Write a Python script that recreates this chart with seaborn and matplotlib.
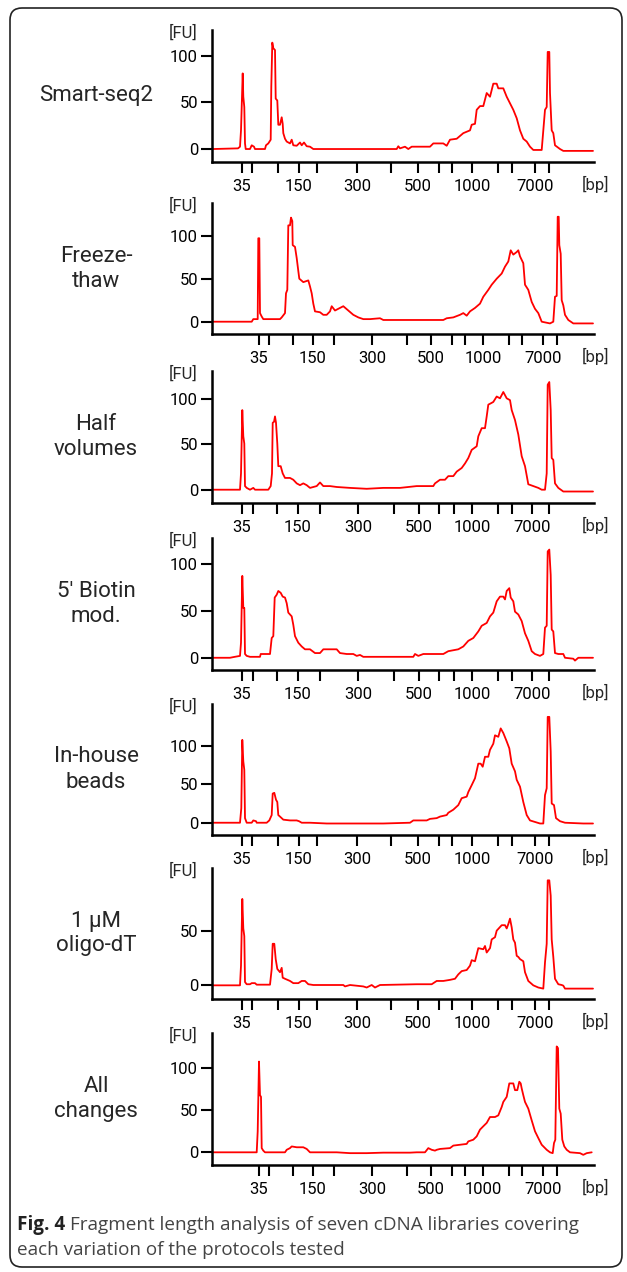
import matplotlib
matplotlib.use("Agg")
from matplotlib import pyplot as plt
from matplotlib.patches import FancyBboxPatch
import seaborn as sns
import pandas as pd

# Bioanalyzer traces: migration position (t) vs fluorescence [FU]

smart_t = [1, 26, 28, 29, 30.7, 31.3, 32.3, 33, 33.7, 38, 39.7, 42, 43, 53, 54, 56.3, 58.7, 59.3, 60.3, 61.3,
           63, 63.7, 65.3, 66.3, 68, 69.7, 70.7, 71.3, 73, 74.7, 78, 79.7, 81.3, 84.7, 88, 89.7, 92, 94.7, 98, 101.3,
           184.7, 186.3, 188, 193, 196.3, 199.7, 218, 221.3, 231.3, 234.7, 238, 244.7, 251.3, 258, 259.7, 263,
           264.7, 268, 271.3, 274.7, 278, 281.3, 284.7, 286.3, 291.3, 294.7, 298, 301.3, 304.7, 308, 311.3, 314.7,
           318, 321.3, 329.7, 333, 334.7, 335.7, 337.3, 338, 339.7, 341.3, 343, 348, 351.3, 381]
smart_fu = [0, 0.7, 2.5, 20, 81, 56, 45, 6, 0, 0, 4, 2.5, 0, 0, 4, 6, 10, 67, 114, 108,
            106, 54, 52, 26, 26, 34, 27, 17, 11, 8, 6, 10, 4, 3.5, 7, 4, 7, 3, 2.5, 0,
            0, 3, 0.7, 2.5, 0, 2.5, 2.5, 6, 6, 3.5, 10, 11, 17, 20, 26, 27,
            42, 46, 46, 60, 56, 70, 70, 65, 65, 56, 49, 42, 33, 20, 11, 8,
            2.5, -1, -1, 42, 45, 104, 104, 60, 20, 17, 4, 0, -2, -2]

freeze_t = [1, 39.7, 41.3, 45.7, 46.3, 47.3, 48, 49.7, 51.3, 68, 69.7, 73, 74, 75.3, 76.3, 78, 79, 80.3, 80.7, 83,
            84.7, 86.3, 87.3, 91.3, 96.3, 98, 99.7, 101.3, 103, 108, 111.3, 114.7, 118, 119.7, 123, 126.3, 131.3,
            136.3, 141.3, 146.3, 151.3, 158, 168, 171.3, 231.3, 234.7, 241.3, 248, 251.3, 254.7, 258, 263, 268,
            271.3, 276.3, 279.7, 284.7, 289.7, 293, 296.3, 298.7, 301.3, 304.7, 306.3, 308, 311.3, 313, 316.3,
            319.7, 323, 326.3, 329.7, 338, 341.3, 343, 344.7, 345.7, 346.7, 347.3, 348.7, 349.7, 351.3, 353,
            356.3, 361.3, 381]
freeze_fu = [0, 0, 3, 3, 97, 97, 10, 6, 3, 3, 5, 10, 33, 37, 112, 112, 121, 117, 89, 87,
             74, 59, 50, 46, 48, 41, 33, 21, 12, 11, 8, 8, 12, 18, 13, 15, 18,
             13, 8, 5, 3, 3, 4, 2, 2, 4, 5, 8, 10, 7, 12, 16, 21,
             29, 37, 43, 50, 56, 64, 70, 83, 78, 81, 83, 76, 68, 43, 37,
             23, 15, 10, 0, -2, 0, 29, 30, 122, 122, 89, 79, 25, 19, 8,
             2, -2, -2]

half_t = [1, 28, 29, 30.3, 31.3, 32.3, 33, 34.7, 38, 41.3, 43, 56.3, 58.7, 60, 60.7, 62, 63, 64, 65.3, 66.3,
          68.7, 70.7, 73, 78, 81.3, 84.7, 88, 91.3, 94.7, 98, 104.7, 108, 111.3, 118, 124.7, 138, 154.7, 171.3,
          188, 204.7, 221.3, 223, 228, 233, 236.3, 241.3, 244.7, 249.7, 253, 256.3, 259.7, 264.7, 266.3, 269.7,
          273, 274.7, 276.3, 279.7, 281.3, 284.7, 288, 291.3, 294.7, 298, 299.7, 303, 306.3, 309.7, 313, 316.3,
          321.3, 326.3, 329.7, 333, 334.7, 335.7, 337.3, 338.7, 339.7, 341.3, 343, 346.3, 351.3, 381]
half_fu = [0, 0, 18, 88, 59, 51, 4, 2, 0, 2, 0, 0, 4, 18, 74, 75, 81, 74, 51, 26,
           26, 18, 13, 13, 11, 7, 5, 7, 5, 2, 4, 8, 4, 4, 3, 2, 1, 2,
           2, 4, 4, 7, 11, 11, 15, 15, 20, 24, 29, 35, 44, 48, 59, 68,
           68, 81, 94, 96, 97, 103, 101, 108, 101, 99, 88, 77, 61, 37, 26, 6,
           4, 2, 0, 0, 18, 116, 119, 88, 35, 33, 7, 2, -2, -2]

biotin_t = [1, 18, 21.3, 28, 29, 30.3, 31.3, 32.3, 33, 34.7, 38, 48, 48.7, 58, 59.7, 61.3, 62.7, 64.7, 66.3, 68.7,
            70.7, 73, 74.7, 76.3, 79.7, 81.3, 83, 86.3, 89.7, 93, 98, 103, 108, 111.3, 124.7, 128, 134.7, 141.3,
            144.7, 148, 151.3, 201.3, 203, 206.3, 211.3, 231.3, 236.3, 241.3, 246.3, 251.3, 256.3, 261.3, 266.3,
            269.7, 274.7, 278, 281.3, 284.7, 288, 291.3, 293, 294.7, 297.3, 298.7, 301.3, 303, 306.3, 309.7, 313,
            316.3, 319.7, 323, 328, 331.3, 333, 334.7, 335.7, 337.3, 338.7, 339.7, 341.3, 343, 346.3, 351.3, 353,
            361.3, 363, 366.3, 381]
biotin_fu = [0, 0, 0.7, 2, 16, 87, 53, 53, 4, 2, 1, 1, 4, 4, 21, 23, 64, 67, 71, 69,
             65, 64, 58, 48, 44, 35, 23, 16, 12, 9, 9, 5, 5, 9, 9, 5, 4, 4,
             2, 3, 1, 1, 4, 2, 4, 4, 7, 8, 9, 12, 18, 21, 28,
             34, 37, 44, 48, 60, 65, 65, 62, 71, 74, 64, 60, 49, 46, 39, 26,
             18, 7, 4, 2, 4, 32, 34, 113, 115, 88, 30, 28, 5, 4, 4, 0,
             -1, -3, 0, 0]

beads_t = [1, 28, 29.3, 30.3, 31.3, 32.3, 33, 34.7, 39.7, 41.3, 44, 44.7, 54.7, 57.3, 59.7, 60.7, 62.3, 64, 65.3, 66.3,
           68, 71.3, 78, 84.7, 87, 89.7, 98, 114.7, 138, 171.3, 198, 201.3, 214.7, 218, 224.7, 228, 234.7, 236.3,
           241.3, 246.3, 249.7, 254.7, 256.3, 259.7, 263, 266.3, 268.7, 270.7, 273, 276.3, 278, 281.3, 283, 286.3,
           288.7, 291.3, 294.7, 297.3, 299.7, 303, 304.7, 308, 311.3, 314.7, 318, 323, 328, 331.3, 333, 334.7,
           335.7, 337.3, 338.7, 339.7, 342, 344, 348, 353, 371.3, 381]
beads_fu = [0, 0, 19, 108, 80, 69, 6, 0, 0, 3, 2, 0, 0, 3, 10, 38, 39, 30, 27, 10,
            8, 4, 3, 3, 2, 0, 0, -1, -1, -1, 0, 3, 3, 5, 6, 8, 10, 13,
            17, 23, 32, 34, 40, 49, 58, 77, 77, 73, 86, 86, 95, 103, 114, 112,
            123, 117, 106, 97, 77, 67, 56, 47, 27, 10, 3, 1, -1, -1, 36, 45,
            138, 138, 93, 25, 23, 6, 2, 0, -1, -1]

oligo_t = [1, 28, 29, 30.3, 31.3, 32.3, 33, 34.7, 38, 39.7, 43, 44.7, 58, 59.7, 60.7, 62.3, 63.7, 65.3, 68, 69.7,
           70.7, 73, 78, 81.3, 86.3, 89.7, 93, 96.3, 101.3, 131.3, 133, 138, 151.3, 154.7, 159.7, 163, 168, 204.7,
           219.7, 224.7, 231.3, 238, 243, 246.3, 249.7, 254.7, 258, 259.7, 263, 266.3, 271.3, 273, 274.7, 278,
           279.7, 283, 284.7, 289.7, 293, 294.7, 296.3, 298, 299.7, 301.3, 303, 304.7, 306.3, 308, 311.3, 313,
           316.3, 321.3, 326.3, 331.3, 333, 334.7, 335.7, 337.3, 338.7, 339.7, 341.3, 343, 346.3, 349.7, 351.3,
           353, 381]
oligo_fu = [0, 0, 18, 79, 52, 45, 3, 1, 1, 2, 2, 0.6, 0.6, 15, 38, 38, 24, 15, 12, 16,
            7, 6, 4, 2, 2, 4, 4, 1, 0.3, 0.3, -1, 0.3, -1, -2, 0.3, -2, 0.3, 1,
            1, 4, 4, 5, 6, 10, 13, 14, 18, 23, 22, 34, 33, 36, 30, 34,
            42, 44, 50, 55, 55, 52, 56, 61, 53, 42, 39, 27, 26, 24, 22, 12,
            4, 0, -2, -3, 21, 38, 96, 96, 82, 42, 26, 6, 1, 0.3, -0.3,
            -3, -3]

allch_t = [1, 44.7, 45.7, 47, 48, 49, 49.7, 51.3, 53, 73, 74.7, 78, 79.7, 84.7, 91.3, 94.7, 98, 124.7, 138, 154.7,
           171.3, 198, 204.7, 213, 216.3, 219.7, 223, 224.7, 228, 238, 241.3, 248, 254.7, 256.3, 261.3, 264.7, 268,
           271.3, 274.7, 278, 283, 286.3, 289.7, 291.3, 294.7, 297.3, 301.3, 303, 305.3, 307.3, 308.7, 309.7,
           311.3, 313, 316.3, 319.7, 323, 326.3, 329.7, 334.7, 338, 340.7, 342, 343.3, 344.7, 346, 347.3, 348.7,
           350.3, 352.3, 354.7, 358, 368, 371.3, 374.7, 379.7]
allch_fu = [0, 0, 25, 108, 68, 66, 5, 2, 0, 0, 3, 5, 7, 6, 6, 4, 0, 0, -1, -1,
            -0.4, -0.4, 0, 0, 5, 3, 2, 3, 4, 5, 8, 9, 10, 13, 15, 19, 27,
            31, 35, 42, 42, 44, 54, 60, 66, 82, 82, 74, 74, 84, 82, 76,
            68, 60, 52, 38, 25, 17, 9, 3, 0, -1, 11, 15, 126, 124, 52, 46,
            15, 7, 3, 0, -1, -3, -1, 0]

# ladder sizes and the tick positions of the ladder in each run
ladder_bp = [35, 50, 100, 150, 200, 300, 400, 500, 600, 700, 1000, 2000, 3000, 7000, 10380]
labelled_bp = [35, 150, 300, 500, 1000, 7000]
ladder_a = [30, 40, 66, 87, 105, 145, 179, 206, 227, 240, 260, 286, 300, 323, 337]
ladder_b = [30, 41, 65, 86, 108, 146, 182, 207, 227, 242, 260, 286, 300, 320, 337]
ladder_c = [47, 57, 81, 101, 122, 160, 195, 219, 240, 253, 271, 297, 310, 331, 345]

sample_names = ["Smart-seq2", "Freeze-\nthaw", "Half\nvolumes", "5' Biotin\nmod.",
                "In-house\nbeads", "1 µM\noligo-dT", "All\nchanges"]

W, H = 627, 1272
# (name, t, fu, ladder ticks, y ticks, y range, top px, bottom px)
panels = [
    (sample_names[0], smart_t, smart_fu, ladder_a, [0, 50, 100], (-13.9, 127.5), 30, 162),
    (sample_names[1], freeze_t, freeze_fu, ladder_c, [0, 50, 100], (-14.3, 138), 203, 334),
    (sample_names[2], half_t, half_fu, ladder_b, [0, 50, 100], (-14.7, 131.2), 371, 503),
    (sample_names[3], biotin_t, biotin_fu, ladder_b, [0, 50, 100], (-13, 127.3), 538, 670),
    (sample_names[4], beads_t, beads_fu, ladder_a, [0, 50, 100], (-16, 154.8), 704, 835),
    (sample_names[5], oligo_t, oligo_fu, ladder_a, [0, 50], (-12.5, 107.3), 868, 999),
    (sample_names[6], allch_t, allch_fu, ladder_c, [0, 50, 100], (-15.1, 142), 1033, 1165),
]

sns.set_style("ticks")
plt.rcParams['font.family'] = ['Roboto', 'DejaVu Sans']

fig = plt.figure(figsize=(W / 100, H / 100), dpi=100)

tick_labels = [str(b) if b in labelled_bp else "" for b in ladder_bp]

for name, t, fu, ticks, yt, ylim, top, bottom in panels:
    ax = fig.add_axes([212 / W, 1 - bottom / H, 382 / W, (bottom - top) / H])
    df = pd.DataFrame({"t": t, "fu": fu})
    sns.lineplot(data=df, x="t", y="fu", ax=ax, color="#ff0000", linewidth=1.3,
                 estimator=None, sort=False)
    ax.set_xlim(0, 382)
    ax.set_ylim(*ylim)
    sns.despine(ax=ax)
    for s in ["left", "bottom"]:
        ax.spines[s].set_linewidth(1.8)
        ax.spines[s].set_color("black")
    ax.set_xticks(ticks)
    ax.set_xticklabels(tick_labels)
    ax.set_yticks(yt)
    ax.tick_params(axis="both", length=8, width=1.5, labelsize=12, colors="black")
    ax.tick_params(axis="x", pad=4)
    ax.tick_params(axis="y", pad=2)
    ax.set_xlabel("")
    ax.set_ylabel("")
    ax.text(-0.039, 0.977, "[FU]", transform=ax.transAxes, ha="right", va="center", fontsize=12)
    ax.annotate("[bp]", xy=(0.969, 0), xycoords="axes fraction", xytext=(0, -16.5),
                textcoords="offset points", ha="left", va="center", fontsize=12)
    mid = (top + bottom) / 2
    fig.text(96 / W, 1 - mid / H, name, ha="center", va="center", fontsize=16, linespacing=1.25)

# caption
cap_font = ["Open Sans", "DejaVu Sans"]
cap_y = 1 - 1225 / H
bold = fig.text(17 / W, cap_y, "Fig. 4", fontsize=13.6, fontweight="bold", va="center",
                color="#222222", family=cap_font)
fig.canvas.draw()
bb = bold.get_window_extent()
fig.text((bb.x1 + 5) / W, cap_y, "Fragment length analysis of seven cDNA libraries covering",
         fontsize=13.6, va="center", color="#444444", family=cap_font)
fig.text(17 / W, 1 - 1250 / H, "each variation of the protocols tested",
         fontsize=13.6, va="center", color="#444444", family=cap_font)

# frame around the figure
frame = FancyBboxPatch((0.10, 0.05), 6.12, 12.59, boxstyle="round,pad=0,rounding_size=0.12",
                       transform=fig.dpi_scale_trans, fill=False, linewidth=1.2, edgecolor="#222222")
fig.patches.append(frame)

fig.savefig("out.png", dpi=100)
